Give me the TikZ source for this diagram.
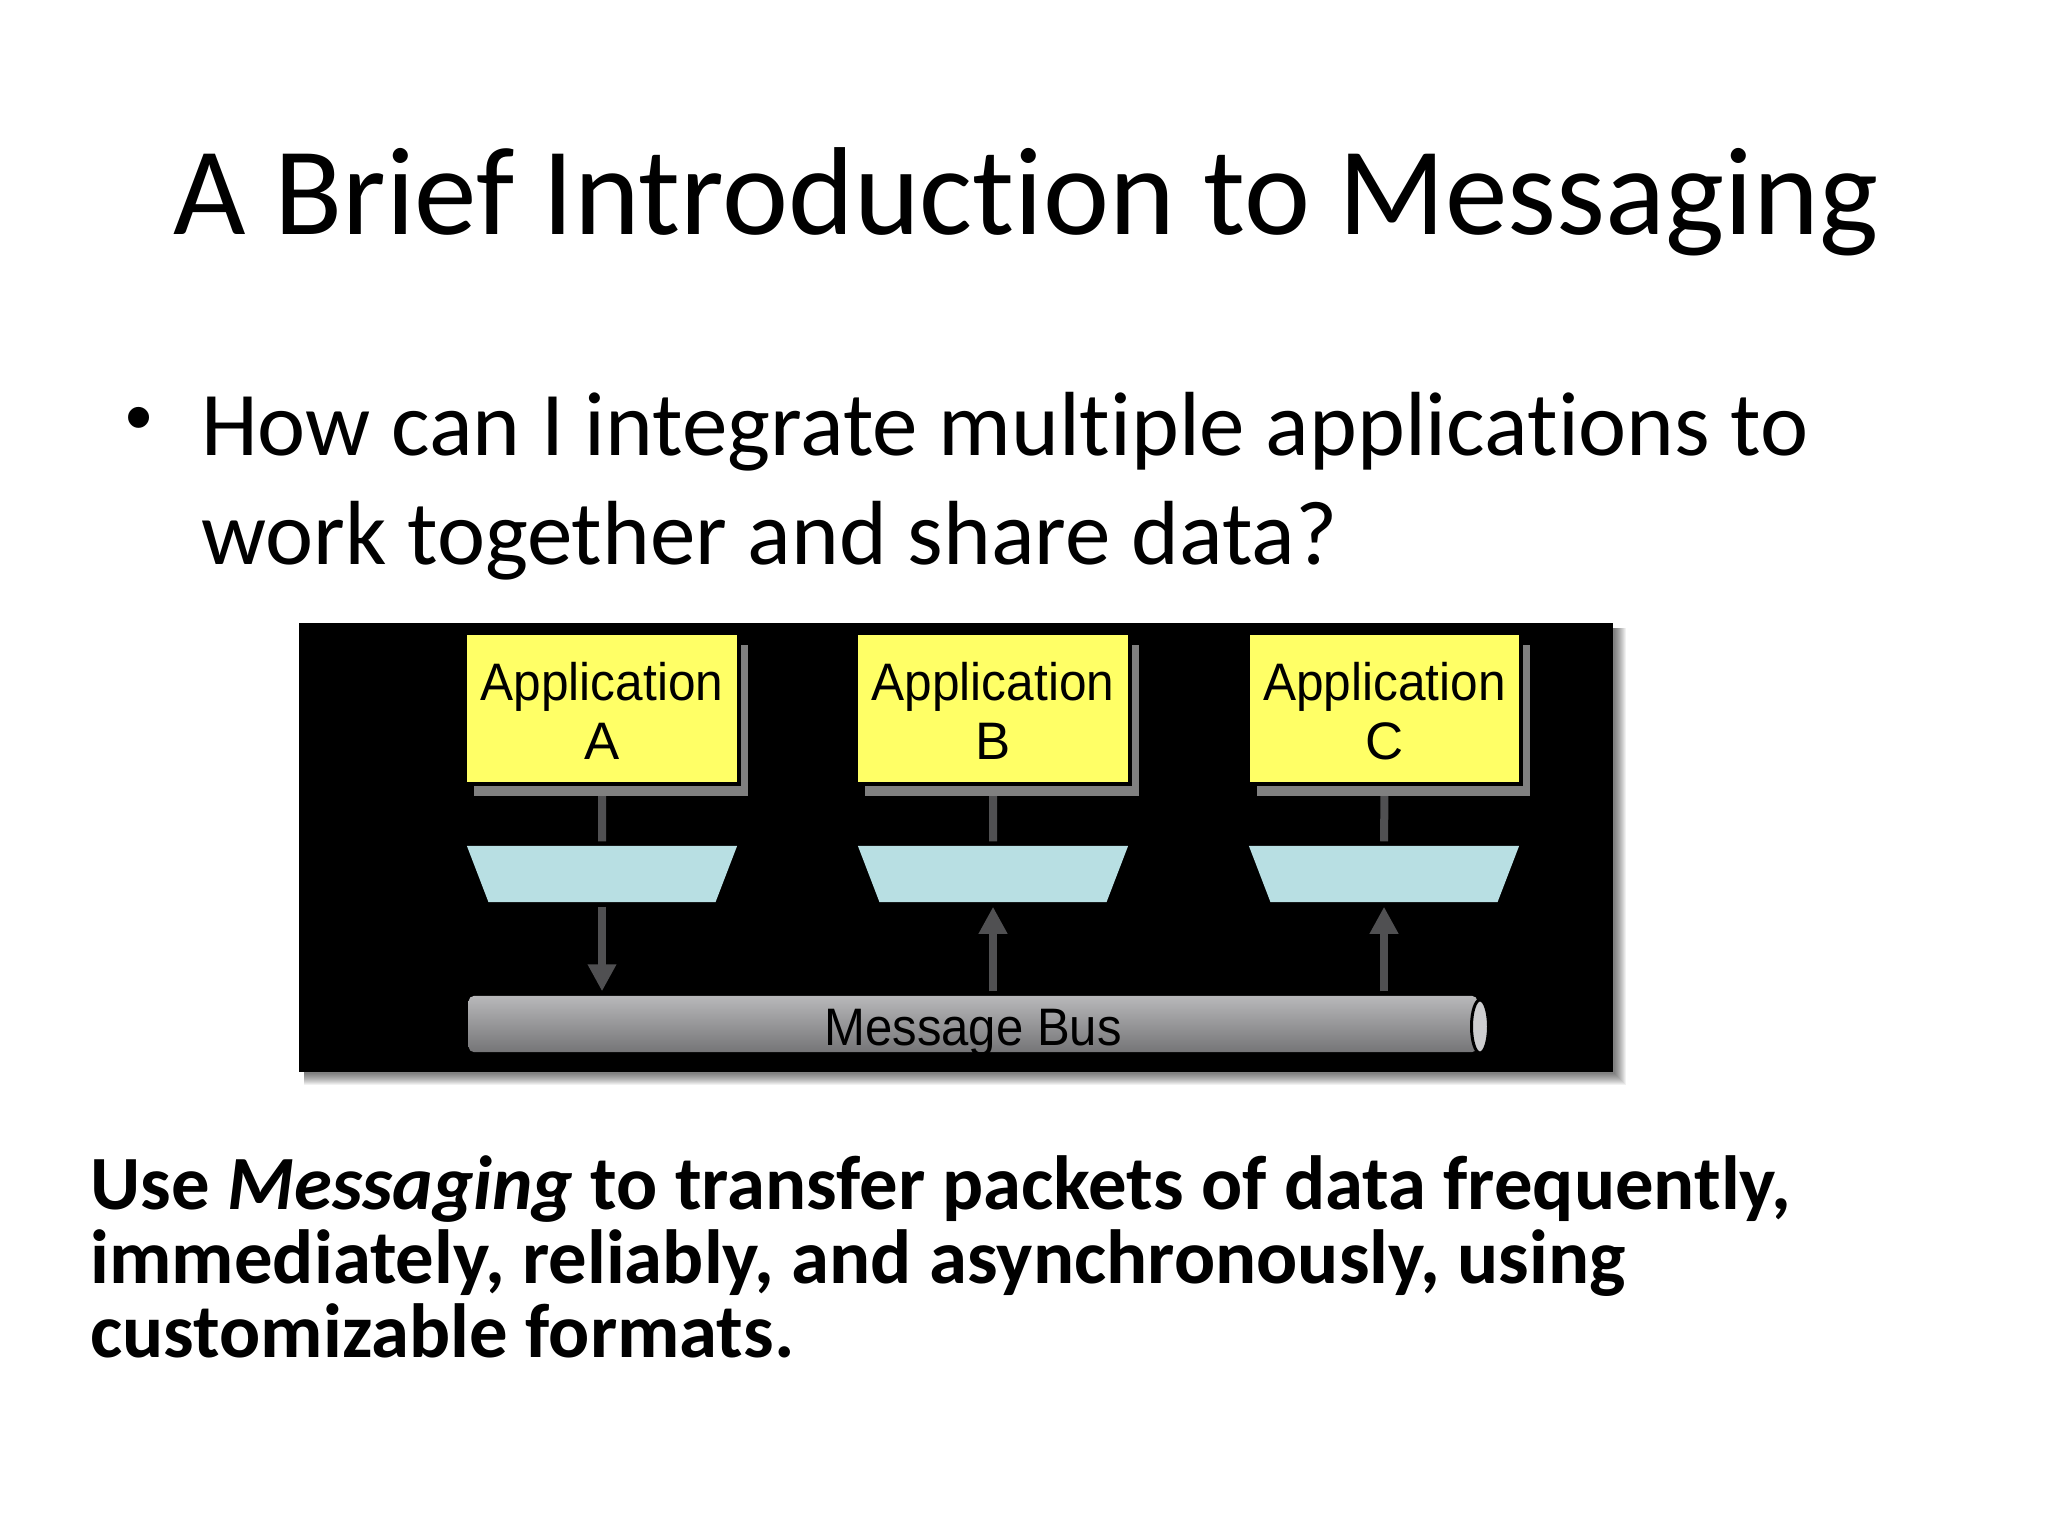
\documentclass[tikz,border=0pt]{standalone}
\usepackage{fontspec}
\setmainfont{Carlito}[Ligatures=NoCommon]
\newfontfamily\bitmapfont{Liberation Sans}
\usetikzlibrary{arrows.meta, calc, shapes.geometric, shadows, backgrounds}

\definecolor{appyellow}{HTML}{FFFF66}
\definecolor{shadowgray}{HTML}{808080}
\definecolor{queueblue}{HTML}{B8DFE3}
\definecolor{busgray}{HTML}{B8B8BA}
\definecolor{busdark}{HTML}{757577}
\definecolor{linkgray}{HTML}{505052}
\newcommand{\applabel}[1]{\rule{0pt}{12.3pt}\scalebox{0.94}[1]{Application}\\#1}
\tikzset{
    title/.style={anchor=base, inner sep=0pt, font=\fontsize{35.6}{40}\selectfont},
    bodytext/.style={anchor=north west, inner sep=0pt, align=left, font=\fontsize{25.9}{31}\selectfont},
    summary/.style={anchor=north west, inner sep=0pt, align=left, font=\fontsize{21.82}{21.1}\selectfont\bfseries},
    app/.style={draw=black, line width=0.04cm, fill=appyellow, minimum width=2.73cm, minimum height=1.51cm,
        inner sep=0pt, align=center, font=\bitmapfont\fontsize{15}{16.8}\selectfont,
        general shadow={shadow xshift=0.09cm, shadow yshift=-0.12cm, fill=shadowgray}},
    queue/.style={trapezium, shape border rotate=180, trapezium angle=69,
        fill=queueblue, text width=2.27cm, text height=0.56cm, text depth=0pt, inner sep=0pt},
    bus/.style={rectangle, rounded corners=0.05cm, top color=busgray, middle color=busgray, bottom color=busdark,
        minimum width=10.08cm, minimum height=0.56cm, inner sep=0pt, text height=0.42cm, text depth=0pt,
        font=\bitmapfont\fontsize{15}{16.8}\selectfont},
    link/.style={draw=linkgray, line width=0.08cm},
    arrowlink/.style={link, -{Triangle[width=0.27cm, length=0.27cm]}},
}

\begin{document}
\begin{tikzpicture}[x=0.01cm, y=-0.01cm]
    \useasboundingbox (0,0) rectangle (2048,1536);

    % slide texts
    \node[title] (heading) at (1026,234) {A Brief Introduction to Messaging};
    \node[inner sep=0pt, font=\bitmapfont\fontsize{22}{22}\selectfont] (bullet) at (139,425) {•};
    \node[bodytext] (question) at (200.5,392) {How can I integrate multiple applications to\\work together and share data?};
    \node[summary] (usage) at (90,1155) {Use \textit{Messaging} to transfer packets of data frequently,\\immediately, reliably, and asynchronously, using\\customizable formats.};

    % black panel
    \node[fill=black, minimum width=13.14cm, minimum height=4.49cm, inner sep=0pt] (panel) at (956,847.5) {};
    \begin{scope}[on background layer]
        \foreach \d in {1,...,12}
            \fill[black, opacity=0.055] ($(panel.north west)+(6,6)$) rectangle ($(panel.south east)+(\d,\d)$);
    \end{scope}

    % applications
    \node[app] (appA) at (602,708.5) {\applabel{A}};
    \node[app] (appB) at (993,708.5) {\applabel{B}};
    \node[app] (appC) at (1384.5,708.5) {\applabel{C}};

    % queues
    \node[queue] (queueA) at (602,874) {};
    \node[queue] (queueB) at (993,874) {};
    \node[queue] (queueC) at (1384,874) {};

    % bus
    \node[bus] (bus) at (973,1024) {\scalebox{0.93}[1]{Message Bus}};
    \node[ellipse, draw=black, line width=0.03cm, fill=busgray!70!white, minimum width=0.17cm, minimum height=0.53cm, inner sep=0pt] (buscap) at ($(bus.east)+(2,2.5)$) {};

    % links
    \draw[link, shorten <=0.1cm, shorten >=0.04cm] (appA.south) -- (queueA.north);
    \draw[link, shorten <=0.1cm, shorten >=0.04cm] (appB.south) -- (queueB.north);
    \draw[link, shorten <=0.1cm, shorten >=0.04cm] (appC.south) -- (queueC.north);
    \draw[arrowlink, shorten <=0.04cm, shorten >=0.04cm] (queueA.south) -- (queueA.south |- bus.north);
    \draw[arrowlink, shorten <=0.04cm, shorten >=0.04cm] (queueB.south |- bus.north) -- (queueB.south);
    \draw[arrowlink, shorten <=0.04cm, shorten >=0.04cm] (queueC.south |- bus.north) -- (queueC.south);
\end{tikzpicture}
\end{document}
